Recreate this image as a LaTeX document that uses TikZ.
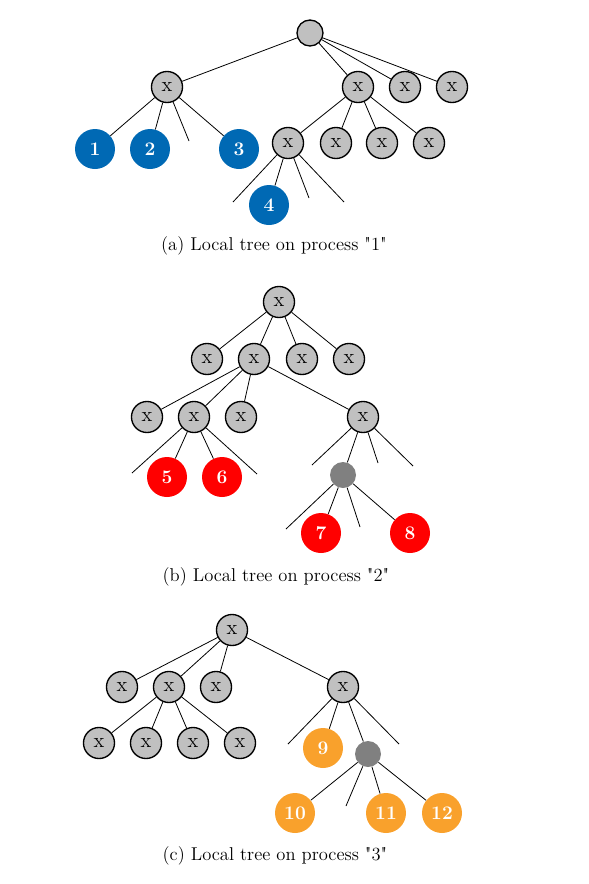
\documentclass[tikz,border=0pt]{standalone}
\definecolor{nodegray}{HTML}{C0C0C0}
\definecolor{dotgray}{HTML}{808080}
\definecolor{leafblue}{HTML}{0069B4}
\definecolor{leafred}{HTML}{FF0000}
\definecolor{leaforange}{HTML}{F9A12C}
\begin{document}
\begin{tikzpicture}[x=0.625pt,y=-0.625pt,
  tnode/.style={circle,draw,line width=0.85pt,fill=nodegray,minimum size=19.4pt,inner sep=0pt,font=\fontsize{13}{15}\selectfont},
  rootnode/.style={tnode,minimum size=16.25pt},
  gdot/.style={circle,fill=dotgray,minimum size=16.25pt,inner sep=0pt},
  leaf/.style={circle,minimum size=25pt,inner sep=0pt,text=white,font=\bfseries\fontsize{12}{14}\selectfont},
  leafa/.style={leaf,fill=leafblue},
  leafb/.style={leaf,fill=leafred},
  leafc/.style={leaf,fill=leaforange},
  edge/.style={line width=0.5pt},
  caption/.style={font=\fontsize{11.6}{14}\selectfont}]
\useasboundingbox (0,0) rectangle (589,884);

% ---------- (a) process "1" ----------
\node[rootnode] (ar) at (310,33) {};
\node[tnode] (a1) at (167,87) {x};
\node[tnode] (a2) at (358,87) {x};
\node[tnode] (a3) at (405,87) {x};
\node[tnode] (a4) at (452,87) {x};
\node[leafa] (l1) at (95,149) {1};
\node[leafa] (l2) at (150,149) {2};
\coordinate (as1) at (189,141);
\node[leafa] (l3) at (239,149) {3};
\node[tnode] (a21) at (288,143) {x};
\node[tnode] (a22) at (336,143) {x};
\node[tnode] (a23) at (382,143) {x};
\node[tnode] (a24) at (429,143) {x};
\coordinate (as2) at (233,202);
\node[leafa] (l4) at (269,205) {4};
\coordinate (as3) at (309,198);
\coordinate (as4) at (344,202);
\foreach \c in {a1,a2,a3,a4} \draw[edge] (ar) -- (\c);
\foreach \c in {l1,l2,as1,l3} \draw[edge] (a1) -- (\c);
\foreach \c in {a21,a22,a23,a24} \draw[edge] (a2) -- (\c);
\foreach \c in {as2,l4,as3,as4} \draw[edge] (a21) -- (\c);
\node[caption] (capa) at (274,246) {(a) Local tree on process \textquotedbl 1\textquotedbl};

% ---------- (b) process "2" ----------
\node[tnode] (br) at (279,302) {x};
\node[tnode] (b1) at (207,359) {x};
\node[tnode] (b2) at (254,359) {x};
\node[tnode] (b3) at (302,359) {x};
\node[tnode] (b4) at (349,359) {x};
\node[tnode] (b21) at (147,417) {x};
\node[tnode] (b22) at (194,417) {x};
\node[tnode] (b23) at (241,417) {x};
\node[tnode] (b24) at (363,417) {x};
\coordinate (bs1) at (132,473);
\node[leafb] (l5) at (167,477) {5};
\node[leafb] (l6) at (222,477) {6};
\coordinate (bs2) at (257,474);
\coordinate (bs3) at (312,465);
\node[gdot] (bd) at (343,475) {};
\coordinate (bs4) at (378,463);
\coordinate (bs5) at (413,466);
\coordinate (bs6) at (286,529);
\node[leafb] (l7) at (321,533) {7};
\coordinate (bs7) at (360,527);
\node[leafb] (l8) at (410,533) {8};
\foreach \c in {b1,b2,b3,b4} \draw[edge] (br) -- (\c);
\foreach \c in {b21,b22,b23,b24} \draw[edge] (b2) -- (\c);
\foreach \c in {bs1,l5,l6,bs2} \draw[edge] (b22) -- (\c);
\foreach \c in {bs3,bd,bs4,bs5} \draw[edge] (b24) -- (\c);
\foreach \c in {bs6,l7,bs7,l8} \draw[edge] (bd) -- (\c);
\node[caption] (capb) at (276,577) {(b) Local tree on process \textquotedbl 2\textquotedbl};

% ---------- (c) process "3" ----------
\node[tnode] (cr) at (232,630) {x};
\node[tnode] (c1) at (122,687) {x};
\node[tnode] (c2) at (169,687) {x};
\node[tnode] (c3) at (216,687) {x};
\node[tnode] (c4) at (343,687) {x};
\node[tnode] (c21) at (99,743) {x};
\node[tnode] (c22) at (146,743) {x};
\node[tnode] (c23) at (193,743) {x};
\node[tnode] (c24) at (240,743) {x};
\coordinate (cs1) at (288,744);
\node[leafc] (l9) at (323,748) {9};
\node[gdot] (cd) at (368,754) {};
\coordinate (cs2) at (399,744);
\node[leafc] (l10) at (295,813) {10};
\coordinate (cs3) at (346,806);
\node[leafc] (l11) at (386,813) {11};
\node[leafc] (l12) at (442,813) {12};
\foreach \c in {c1,c2,c3,c4} \draw[edge] (cr) -- (\c);
\foreach \c in {c21,c22,c23,c24} \draw[edge] (c2) -- (\c);
\foreach \c in {cs1,l9,cd,cs2} \draw[edge] (c4) -- (\c);
\foreach \c in {l10,cs3,l11,l12} \draw[edge] (cd) -- (\c);
\node[caption] (capc) at (275,856) {(c) Local tree on process \textquotedbl 3\textquotedbl};
\end{tikzpicture}
\end{document}
